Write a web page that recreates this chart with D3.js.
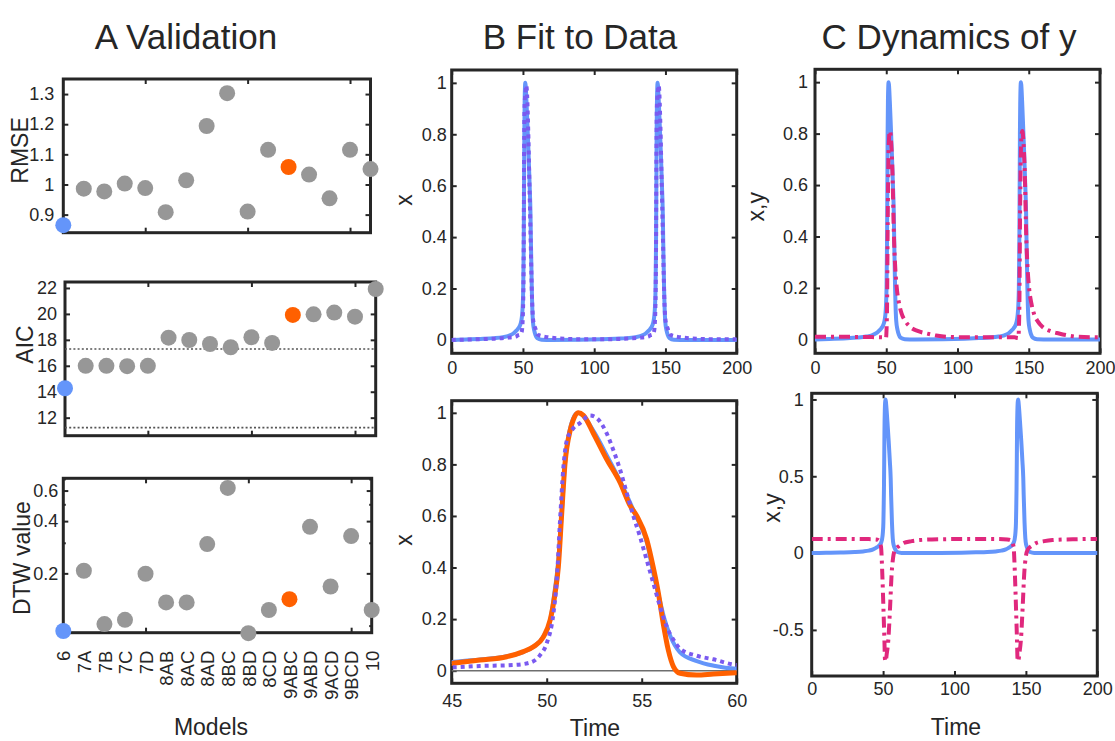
<!DOCTYPE html>
<html><head><meta charset="utf-8">
<script src="https://cdn.jsdelivr.net/npm/d3@7"></script>
<style>
body{margin:0;background:#fff}
text{font-family:"Liberation Sans",Arial,Helvetica,sans-serif;fill:#262626}
</style>
</head><body>
<svg id="chart" width="1115" height="741"></svg>
<script>
// ---------------- DATA ----------------
const models = ["6","7A","7B","7C","7D","8AB","8AC","8AD","8BC","8BD","8CD","9ABC","9ABD","9ACD","9BCD","10"];
const rmseValues = [0.865,0.986,0.977,1.003,0.988,0.908,1.014,1.194,1.303,0.910,1.115,1.058,1.033,0.954,1.115,1.051];
const aicValues  = [14.27,16.0,16.0,15.97,16.0,18.17,17.99,17.68,17.43,18.2,17.76,19.92,19.97,20.1,19.79,21.92];
const dtwValues  = [0.0931,0.207,0.102,0.108,0.199,0.136,0.136,0.295,0.621,0.0904,0.123,0.142,0.371,0.168,0.328,0.123];
const bestModel = "6";
const chosenModel = "9ABC";
const aicReferenceLines = [17.3, 11.23];

const rmseTicks = [0.9,1,1.1,1.2,1.3];
const aicTicks = [12,14,16,18,20,22];
const dtwTicks = [0.2,0.4,0.6];
const dtwMinorTicks = [0.1,0.3,0.5,0.7];
const modelTickIdx = [5,10,15];

const timeTicks = [0,50,100,150,200];
const zoomTimeTicks = [45,50,55,60];
const unitTicks = [0,0.2,0.4,0.6,0.8,1];
const yDynTicks = [-0.5,0,0.5,1];

// observed x (blue solid)
const dataX = [[0,0.0],[10,0.002],[20,0.004],[30,0.007],[36,0.011],[40,0.016],[43,0.024],[45,0.034],[46.5,0.043],[47.9,0.056],[48.8,0.073],[49.3,0.092],[49.8,0.13],[50.2,0.2],[50.4,0.3],[50.6,0.42],[50.8,0.62],[50.96,0.8],[51.2,0.93],[51.4,0.98],[51.65,1.0],[51.9,0.99],[52.5,0.925],[53.2,0.83],[53.9,0.73],[54.4,0.65],[54.7,0.6],[55.3,0.49],[55.6,0.38],[55.9,0.29],[56.2,0.2],[56.5,0.135],[57.0,0.072],[57.9,0.037],[58.8,0.019],[60,0.007],[63,0.001],[70,0.0],[90,0.001],[105,0.003],[115,0.005],[122.9,0.007],[128.9,0.011],[132.9,0.016],[135.9,0.024],[137.85,0.034],[139.35,0.043],[140.75,0.056],[141.65,0.073],[142.15,0.092],[142.65,0.13],[143.05,0.2],[143.25,0.3],[143.45,0.42],[143.65,0.62],[143.8,0.8],[144.05,0.93],[144.25,0.98],[144.5,1.0],[144.75,0.99],[145.35,0.925],[146.05,0.83],[146.75,0.73],[147.25,0.65],[147.55,0.6],[148.15,0.49],[148.45,0.38],[148.75,0.29],[149.05,0.2],[149.35,0.135],[149.85,0.072],[150.75,0.037],[151.65,0.019],[152.85,0.007],[155.85,0.001],[165,0.0],[200,0.0]];

// model fit x (purple dotted)
const fitX = [[0,0.0],[15,0.002],[30,0.005],[40,0.009],[45,0.013],[46.49,0.018],[48.25,0.022],[49.12,0.031],[49.65,0.06],[50.0,0.106],[50.35,0.22],[50.53,0.35],[50.7,0.58],[50.88,0.79],[51.05,0.89],[51.4,0.94],[51.75,0.96],[52.28,0.99],[52.63,0.98],[53.16,0.92],[53.51,0.855],[53.86,0.78],[54.21,0.69],[54.56,0.6],[54.91,0.52],[55.26,0.43],[55.61,0.34],[55.96,0.25],[56.32,0.17],[56.67,0.12],[57.02,0.085],[57.89,0.058],[58.77,0.044],[60,0.022],[63,0.015],[68,0.01],[75,0.006],[90,0.003],[110,0.003],[125,0.006],[133,0.009],[137.85,0.013],[139.35,0.018],[141.1,0.022],[141.95,0.031],[142.5,0.06],[142.85,0.106],[143.2,0.22],[143.4,0.35],[143.55,0.58],[143.75,0.79],[143.9,0.89],[144.25,0.94],[144.6,0.96],[145.15,0.99],[145.5,0.98],[146.0,0.92],[146.35,0.855],[146.7,0.78],[147.05,0.69],[147.4,0.6],[147.75,0.52],[148.1,0.43],[148.45,0.34],[148.8,0.25],[149.15,0.17],[149.5,0.12],[149.85,0.085],[150.75,0.058],[151.6,0.044],[152.85,0.022],[155.85,0.015],[160.85,0.01],[167.85,0.006],[182.85,0.003],[200,0.003]];

// selected model 9ABC (orange), zoomed window
const modelX = [[45.0,0.028],[46.49,0.041],[47.89,0.054],[48.77,0.074],[49.3,0.093],[49.82,0.13],[50.18,0.196],[50.44,0.3],[50.61,0.4],[50.79,0.61],[50.96,0.8],[51.23,0.93],[51.67,1.0],[51.93,0.99],[52.46,0.92],[53.16,0.82],[53.86,0.73],[54.39,0.64],[54.74,0.6],[55.26,0.51],[55.61,0.4],[55.88,0.3],[56.14,0.18],[56.4,0.08],[56.67,0.016],[57.02,-0.01],[57.89,-0.017],[58.77,-0.013],[60.0,-0.008]];

// y normalised (C top, magenta dash-dot)
const yNorm = [[0,0.01],[20,0.01],[40,0.009],[47,0.008],[49.8,0.005],[50.5,0.1],[51.0,0.45],[51.6,0.72],[52.2,0.8],[52.7,0.81],[53.5,0.76],[54.3,0.66],[55.4,0.4],[56.3,0.28],[57.3,0.205],[59,0.14],[60.8,0.1],[63.5,0.07],[66.7,0.049],[72,0.033],[78.4,0.023],[85,0.015],[92.4,0.01],[110,0.008],[130,0.008],[140,0.008],[142.65,0.005],[143.35,0.1],[143.85,0.45],[144.45,0.72],[145.05,0.8],[145.55,0.81],[146.35,0.76],[147.15,0.66],[148.25,0.4],[149.15,0.28],[150.15,0.205],[151.85,0.14],[153.65,0.1],[156.35,0.07],[159.55,0.049],[164.85,0.033],[171.25,0.023],[177.85,0.015],[185.25,0.01],[200,0.008]];

// y (C bottom, magenta dash-dot)
const yDyn = [[0,0.092],[20,0.092],[40,0.091],[45,0.089],[46.7,0.084],[48.5,0.043],[49.5,-0.15],[50.2,-0.35],[50.9,-0.56],[51.3,-0.69],[51.8,-0.705],[52.5,-0.66],[53.7,-0.56],[54.9,-0.35],[56.0,-0.13],[57,-0.03],[58.3,0.021],[61,0.045],[64.2,0.065],[70,0.078],[75.8,0.085],[90,0.09],[110,0.092],[130,0.092],[137,0.089],[139.55,0.084],[141.35,0.043],[142.35,-0.15],[143.05,-0.35],[143.75,-0.56],[144.15,-0.69],[144.65,-0.705],[145.35,-0.66],[146.55,-0.56],[147.75,-0.35],[148.85,-0.13],[149.85,-0.03],[151.15,0.021],[153.85,0.045],[157.05,0.065],[162.85,0.078],[168.65,0.085],[182.85,0.09],[200,0.092]];

// ---------------- STYLE ----------------
const C = {ink:"#262626", gray:"#979797", blue:"#6495fa", orange:"#ff6000", purple:"#7a5af0", magenta:"#e0287d"};
const svg = d3.select("#chart");
const FS = 18;

let clipId = 0;
function frame(box, xs, ys, o) {
  const g = svg.append("g");
  const tk = 5;
  const style = sel => {
    sel.select(".domain").remove();
    sel.selectAll(".tick line").attr("stroke", C.ink).attr("stroke-width", 2);
    sel.selectAll(".tick text").style("font-size", FS + "px").attr("fill", C.ink);
  };
  g.append("g").attr("transform", `translate(${box.l},0)`)
    .call(d3.axisLeft(ys).tickValues(o.yTicks).tickSize(-tk).tickPadding(o.yPad).tickFormat(o.yFmt || (d => String(d))))
    .call(style);
  g.append("g").attr("transform", `translate(${box.r},0)`)
    .call(d3.axisRight(ys).tickValues(o.yTicks).tickSize(-tk).tickFormat(""))
    .call(style);
  g.append("g").attr("transform", `translate(0,${box.b})`)
    .call(d3.axisBottom(xs).tickValues(o.xTicks).tickSize(-tk).tickPadding(o.xPad || 8).tickFormat(o.xLabels ? (d => String(d)) : ""))
    .call(style);
  g.append("g").attr("transform", `translate(0,${box.t})`)
    .call(d3.axisTop(xs).tickValues(o.xTicks).tickSize(-tk).tickFormat(""))
    .call(style);
  if (o.yMinor) {
    g.append("g").attr("transform", `translate(${box.l},0)`)
      .call(d3.axisLeft(ys).tickValues(o.yMinor).tickSize(-2.5).tickFormat(""))
      .call(style);
    g.append("g").attr("transform", `translate(${box.r},0)`)
      .call(d3.axisRight(ys).tickValues(o.yMinor).tickSize(-2.5).tickFormat(""))
      .call(style);
  }
  g.append("rect").attr("x", box.l).attr("y", box.t).attr("width", box.r - box.l).attr("height", box.b - box.t)
    .attr("fill", "none").attr("stroke", C.ink).attr("stroke-width", 3);
  const id = "clip" + (clipId++);
  svg.append("clipPath").attr("id", id).append("rect")
    .attr("x", box.l).attr("y", box.t).attr("width", box.r - box.l).attr("height", box.b - box.t);
  return id;
}

function yLabel(txt, x, y) {
  svg.append("text").attr("transform", `translate(${x},${y}) rotate(-90)`)
    .attr("text-anchor", "middle").style("font-size", "23px").text(txt);
}
function xLabel(txt, x, y) {
  svg.append("text").attr("x", x).attr("y", y).attr("text-anchor", "middle").style("font-size", "23px").text(txt);
}
function title(txt, x, y) {
  svg.append("text").attr("x", x).attr("y", y).attr("text-anchor", "middle").style("font-size", "35px").text(txt);
}

// ---------------- PANEL A ----------------
const modelIdx = models.map((m, i) => i + 1);
function dotColor(i) {
  if (models[i] === bestModel) return C.blue;
  if (models[i] === chosenModel) return C.orange;
  return C.gray;
}
function scatter(xs, ys, values) {
  const g = svg.append("g");
  const order = d3.range(values.length).sort((a, b) => (dotColor(a) === C.gray ? 0 : 1) - (dotColor(b) === C.gray ? 0 : 1));
  g.selectAll("circle").data(order).join("circle")
    .attr("cx", i => xs(i + 1)).attr("cy", i => ys(values[i])).attr("r", 8)
    .attr("fill", i => dotColor(i));
}

// A1 RMSE
{
  const box = {l:63.3, r:370.5, t:79, b:232.7};
  const xs = d3.scaleLinear().domain([1,16]).range([box.l, box.r]);
  const ys = d3.scaleLinear().domain([0.84,1.35]).range([box.b, box.t]);
  frame(box, xs, ys, {yTicks: rmseTicks, yPad: 9, xTicks: modelTickIdx});
  scatter(xs, ys, rmseValues);
  yLabel("RMSE", 28.3, 150.5);
}
// A2 AIC
{
  const box = {l:65, r:375.7, t:282, b:435.7};
  const xs = d3.scaleLinear().domain([1,16]).range([box.l, box.r]);
  const ys = d3.scaleLinear().domain([10.61,22.46]).range([box.b, box.t]);
  frame(box, xs, ys, {yTicks: aicTicks, yPad: 8, xTicks: modelTickIdx});
  svg.append("g").selectAll("line").data(aicReferenceLines).join("line")
    .attr("x1", box.l).attr("x2", box.r).attr("y1", d => ys(d)).attr("y2", d => ys(d))
    .attr("stroke", "#555").attr("stroke-width", 1.6).attr("stroke-dasharray", "2,2.2");
  scatter(xs, ys, aicValues);
  yLabel("AIC", 33.3, 344.5);
}
// A3 DTW (log)
{
  const box = {l:63.3, r:371.7, t:478.3, b:632.7};
  const xs = d3.scaleLinear().domain([1,16]).range([box.l, box.r]);
  const ys = d3.scaleLog().domain([0.091,0.706]).range([box.b, box.t]);
  frame(box, xs, ys, {yTicks: dtwTicks, yPad: 5, xTicks: modelTickIdx, yMinor: dtwMinorTicks});
  scatter(xs, ys, dtwValues);
  yLabel("DTW value", 30, 558);
  const ax = svg.append("g").attr("transform", `translate(0,${box.b})`)
    .call(d3.axisBottom(xs).tickValues(modelIdx).tickSize(0).tickFormat(i => models[i - 1]));
  ax.select(".domain").remove();
  ax.selectAll(".tick text").attr("transform", "rotate(-90)").attr("x", -18).attr("y", 0).attr("dy", "0.36em")
    .style("text-anchor", "end").style("font-size", "18.5px").attr("fill", C.ink);
  xLabel("Models", 211, 735);
}
title("A Validation", 186, 49);

// ---------------- PANEL B ----------------
function curve(xs, ys, data, clip, color, width, dash) {
  const line = d3.line().x(d => xs(d[0])).y(d => ys(d[1])).curve(d3.curveMonotoneX);
  const p = svg.append("path").datum(data).attr("d", line).attr("clip-path", `url(#${clip})`)
    .attr("fill", "none").attr("stroke", color).attr("stroke-width", width)
    .attr("stroke-linejoin", "round");
  if (dash) p.attr("stroke-dasharray", dash).attr("stroke-linecap", "butt");
  else p.attr("stroke-linecap", "round");
}
// B top
{
  const box = {l:451.7, r:736.7, t:70, b:353.3};
  const xs = d3.scaleLinear().domain([0,200]).range([box.l, box.r]);
  const ys = d3.scaleLinear().domain([-0.052,1.05]).range([box.b, box.t]);
  const clip = frame(box, xs, ys, {yTicks: unitTicks, yPad: 5, xTicks: timeTicks, xLabels: true, xPad: 8});
  curve(xs, ys, dataX, clip, C.blue, 4);
  curve(xs, ys, fitX, clip, C.purple, 4, "4,4");
  yLabel("x", 411.7, 200);
}
// B bottom
{
  const box = {l:451.7, r:736.7, t:400.7, b:683.3};
  const xs = d3.scaleLinear().domain([45,60]).range([box.l, box.r]);
  const ys = d3.scaleLinear().domain([-0.049,1.047]).range([box.b, box.t]);
  const clip = frame(box, xs, ys, {yTicks: unitTicks, yPad: 5, xTicks: zoomTimeTicks, xLabels: true, xPad: 11});
  svg.append("line").attr("x1", xs(45)).attr("x2", xs(60)).attr("y1", ys(0)).attr("y2", ys(0))
    .attr("stroke", "#6e6e6e").attr("stroke-width", 1.5);
  curve(xs, ys, dataX, clip, C.blue, 4);
  curve(xs, ys, modelX, clip, C.orange, 5);
  curve(xs, ys, fitX, clip, C.purple, 4, "4,4");
  yLabel("x", 411.7, 540);
  xLabel("Time", 595, 736);
}
title("B Fit to Data", 580, 49);

// ---------------- PANEL C ----------------
{
  const box = {l:815, r:1100, t:69.3, b:353.3};
  const xs = d3.scaleLinear().domain([0,200]).range([box.l, box.r]);
  const ys = d3.scaleLinear().domain([-0.054,1.05]).range([box.b, box.t]);
  const clip = frame(box, xs, ys, {yTicks: unitTicks, yPad: 7, xTicks: timeTicks, xLabels: true, xPad: 8});
  curve(xs, ys, dataX, clip, C.blue, 4);
  curve(xs, ys, yNorm, clip, C.magenta, 4, "11,5,3,5");
  yLabel("x,y", 763.7, 206.7);
}
{
  const box = {l:811.7, r:1097.3, t:393.3, b:676};
  const xs = d3.scaleLinear().domain([0,200]).range([box.l, box.r]);
  const ys = d3.scaleLinear().domain([-0.8,1.04]).range([box.b, box.t]);
  const clip = frame(box, xs, ys, {yTicks: yDynTicks, yPad: 8, xTicks: timeTicks, xLabels: true, xPad: 6,
    yFmt: d => d < 0 ? "-" + String(-d) : String(d)});
  curve(xs, ys, dataX, clip, C.blue, 4);
  curve(xs, ys, yDyn, clip, C.magenta, 4, "11,5,3,5");
  yLabel("x,y", 780.4, 508);
  xLabel("Time", 956, 735);
}
title("C Dynamics of y", 949, 49);
</script>
</body></html>
